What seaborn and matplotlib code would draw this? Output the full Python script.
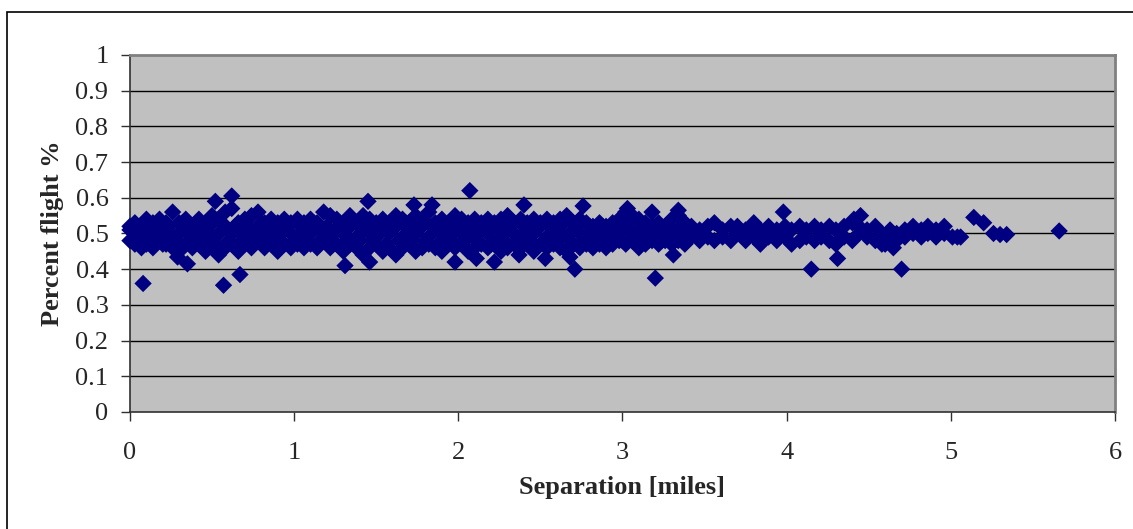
import matplotlib
matplotlib.use("Agg")
import matplotlib.pyplot as plt
import matplotlib.patches as mpatches
import seaborn as sns
import pandas as pd


# dense core of the cloud, read column by column (low, mid, high)
core_sep = [0.00, 0.03, 0.07, 0.10, 0.14, 0.18, 0.22, 0.26, 0.30, 0.34,
            0.38, 0.42, 0.46, 0.50, 0.54, 0.58, 0.62, 0.66, 0.70, 0.74,
            0.78, 0.82, 0.86, 0.90, 0.94, 0.98, 1.02, 1.06, 1.10, 1.14,
            1.18, 1.22, 1.26, 1.30, 1.34, 1.38, 1.42, 1.46, 1.50, 1.54,
            1.58, 1.62, 1.66, 1.70, 1.74, 1.78, 1.82, 1.86, 1.90, 1.94,
            1.98, 2.02, 2.06, 2.10, 2.14, 2.18, 2.22, 2.26, 2.30, 2.34,
            2.38, 2.42, 2.46, 2.50, 2.54, 2.58, 2.62, 2.66, 2.70, 2.74,
            2.78, 2.82, 2.86, 2.90, 2.94, 2.98, 3.02, 3.06, 3.10, 3.14,
            3.18, 3.22, 3.26, 3.30, 3.34, 3.38]
core_low = [0.48, 0.47, 0.46, 0.47, 0.46, 0.48, 0.47, 0.46, 0.45, 0.47,
            0.46, 0.47, 0.45, 0.47, 0.44, 0.46, 0.47, 0.45, 0.47, 0.46,
            0.48, 0.46, 0.47, 0.45, 0.47, 0.46, 0.47, 0.46, 0.47, 0.46,
            0.48, 0.46, 0.47, 0.45, 0.47, 0.46, 0.44, 0.46, 0.47, 0.45,
            0.46, 0.44, 0.46, 0.47, 0.45, 0.46, 0.47, 0.46, 0.45, 0.47,
            0.46, 0.47, 0.45, 0.46, 0.47, 0.46, 0.47, 0.45, 0.46, 0.47,
            0.46, 0.47, 0.45, 0.47, 0.46, 0.47, 0.46, 0.45, 0.47, 0.46,
            0.47, 0.46, 0.47, 0.46, 0.47, 0.48, 0.47, 0.48, 0.46, 0.47,
            0.48, 0.47, 0.48, 0.47, 0.48, 0.47]
core_mid = [0.51, 0.50, 0.49, 0.51, 0.50, 0.50, 0.51, 0.49, 0.50, 0.51,
            0.49, 0.50, 0.51, 0.49, 0.50, 0.52, 0.50, 0.51, 0.49, 0.50,
            0.51, 0.50, 0.52, 0.49, 0.51, 0.50, 0.49, 0.51, 0.50, 0.52,
            0.50, 0.49, 0.51, 0.50, 0.52, 0.49, 0.51, 0.50, 0.49, 0.51,
            0.50, 0.52, 0.49, 0.51, 0.50, 0.52, 0.49, 0.51, 0.50, 0.49,
            0.51, 0.50, 0.52, 0.49, 0.51, 0.50, 0.52, 0.49, 0.51, 0.50,
            0.49, 0.51, 0.50, 0.52, 0.49, 0.51, 0.50, 0.49, 0.51, 0.50,
            0.49, 0.51, 0.50, 0.49, 0.51, 0.50, 0.52, 0.50, 0.51, 0.49,
            0.50, 0.51, 0.49, 0.50, 0.51, 0.50]
core_high = [0.52, 0.53, 0.52, 0.54, 0.53, 0.54, 0.53, 0.56, 0.53, 0.54,
             0.52, 0.54, 0.53, 0.55, 0.54, 0.56, 0.57, 0.53, 0.54, 0.55,
             0.56, 0.53, 0.54, 0.53, 0.54, 0.53, 0.54, 0.53, 0.54, 0.53,
             0.56, 0.55, 0.54, 0.53, 0.55, 0.53, 0.55, 0.54, 0.53, 0.54,
             0.53, 0.55, 0.54, 0.53, 0.55, 0.54, 0.56, 0.53, 0.54, 0.53,
             0.55, 0.54, 0.53, 0.54, 0.53, 0.54, 0.53, 0.54, 0.55, 0.53,
             0.54, 0.53, 0.54, 0.53, 0.54, 0.53, 0.54, 0.55, 0.53, 0.54,
             0.53, 0.52, 0.53, 0.52, 0.53, 0.54, 0.56, 0.55, 0.54, 0.53,
             0.52, 0.53, 0.52, 0.54, 0.55, 0.53]

# in-between points of the core
fill_sep = [0.02, 0.05, 0.09, 0.12, 0.16, 0.20, 0.24, 0.28, 0.32, 0.36,
            0.40, 0.44, 0.48, 0.52, 0.56, 0.60, 0.64, 0.68, 0.72, 0.76,
            0.80, 0.84, 0.88, 0.92, 0.96, 1.00, 1.04, 1.08, 1.12, 1.16,
            1.20, 1.24, 1.28, 1.32, 1.36, 1.40, 1.44, 1.48, 1.52, 1.56,
            1.60, 1.64, 1.68, 1.72, 1.76, 1.80, 1.84, 1.88, 1.92, 1.96,
            2.00, 2.04, 2.08, 2.12, 2.16, 2.20, 2.24, 2.28, 2.32, 2.36,
            2.40, 2.44, 2.48, 2.52, 2.56, 2.60, 2.64, 2.68, 2.72, 2.76,
            2.80, 2.84, 2.88, 2.92, 2.96, 3.00, 3.04, 3.08, 3.12, 3.16,
            3.20, 3.24, 3.28, 3.32, 3.36]
fill_pct = [0.52, 0.48, 0.52, 0.48, 0.52, 0.47, 0.52, 0.48, 0.53, 0.48,
            0.52, 0.48, 0.52, 0.47, 0.53, 0.48, 0.52, 0.48, 0.52, 0.48,
            0.53, 0.48, 0.52, 0.47, 0.52, 0.48, 0.52, 0.48, 0.53, 0.48,
            0.52, 0.47, 0.52, 0.48, 0.53, 0.48, 0.52, 0.48, 0.52, 0.47,
            0.52, 0.48, 0.53, 0.48, 0.52, 0.48, 0.52, 0.47, 0.52, 0.48,
            0.53, 0.48, 0.52, 0.48, 0.52, 0.47, 0.52, 0.48, 0.53, 0.48,
            0.52, 0.48, 0.52, 0.47, 0.52, 0.48, 0.53, 0.48, 0.52, 0.48,
            0.52, 0.48, 0.52, 0.48, 0.52, 0.48, 0.53, 0.48, 0.52, 0.48,
            0.52, 0.48, 0.52, 0.48, 0.52]

# thinner tail of the cloud (two levels per column)
tail_sep = [3.42, 3.47, 3.52, 3.56, 3.61, 3.66, 3.70, 3.75, 3.80, 3.84,
            3.89, 3.94, 3.99, 4.03, 4.08, 4.12, 4.17, 4.21, 4.26, 4.30,
            4.35, 4.40, 4.44, 4.49, 4.54, 4.58, 4.63, 4.67, 4.72, 4.77,
            4.82, 4.86, 4.91, 4.96]
tail_low = [0.49, 0.48, 0.49, 0.48, 0.49, 0.48, 0.50, 0.48, 0.49, 0.47,
            0.49, 0.48, 0.49, 0.47, 0.48, 0.49, 0.48, 0.49, 0.48, 0.47,
            0.49, 0.48, 0.50, 0.49, 0.48, 0.47, 0.49, 0.48, 0.49, 0.50,
            0.49, 0.50, 0.49, 0.50]
tail_high = [0.52, 0.51, 0.52, 0.53, 0.51, 0.52, 0.52, 0.51, 0.53, 0.51,
             0.52, 0.51, 0.52, 0.51, 0.52, 0.51, 0.52, 0.51, 0.52, 0.51,
             0.52, 0.53, 0.52, 0.51, 0.52, 0.50, 0.51, 0.50, 0.51, 0.52,
             0.51, 0.52, 0.51, 0.52]

# scattered outliers
out_sep = [0.08, 0.57, 0.67, 0.62, 0.52, 0.29, 0.35, 1.31, 1.45, 2.07,
           1.73, 1.84, 2.40, 1.46, 1.98, 2.11, 2.22, 2.37, 2.53, 2.68,
           2.71, 2.76, 3.20, 3.18, 3.34, 3.03, 3.98, 3.31, 4.15, 4.45,
           4.31, 4.70, 5.14, 5.20, 5.26, 5.30, 5.34, 5.06, 5.01, 5.04,
           5.66, 4.41, 4.60, 4.65]
out_pct = [0.36, 0.355, 0.385, 0.605, 0.59, 0.434, 0.415, 0.41, 0.59, 0.62,
           0.58, 0.58, 0.58, 0.42, 0.42, 0.43, 0.42, 0.44, 0.43, 0.434,
           0.40, 0.577, 0.375, 0.56, 0.565, 0.57, 0.56, 0.44, 0.40, 0.55,
           0.43, 0.40, 0.545, 0.53, 0.50, 0.497, 0.497, 0.49, 0.49, 0.49,
           0.507, 0.54, 0.47, 0.46]

sep = core_sep * 3 + fill_sep + tail_sep * 2 + out_sep
pct = core_low + core_mid + core_high + fill_pct + tail_low + tail_high + out_pct
df = pd.DataFrame({"sep": sep, "pct": pct})

sns.set_style("ticks")
plt.rcParams["font.family"] = ["Liberation Serif", "DejaVu Serif"]

fig = plt.figure(figsize=(11.33, 5.29), dpi=100)
ax = fig.add_axes([0.1147, 0.2212, 0.8694, 0.6749])
ax.set_facecolor("#c0c0c0")

for yv in [0.1, 0.2, 0.3, 0.4, 0.5, 0.6, 0.7, 0.8, 0.9]:
    ax.axhline(yv, color="black", lw=1.0, zorder=1)

sns.scatterplot(data=df, x="sep", y="pct", marker="D", s=78,
                color="#000080", edgecolor="none", linewidth=0, ax=ax,
                zorder=3, clip_on=False)

ax.set_xlim(0, 6)
ax.set_ylim(0, 1)
ax.set_xticks([0, 1, 2, 3, 4, 5, 6])
ax.set_yticks([0, 0.1, 0.2, 0.3, 0.4, 0.5, 0.6, 0.7, 0.8, 0.9, 1])
ax.set_yticklabels(["0", "0.1", "0.2", "0.3", "0.4", "0.5", "0.6", "0.7",
                    "0.8", "0.9", "1"])
ax.tick_params(axis="both", direction="out", length=6.5, width=1,
               color="#303030", labelsize=19)
ax.tick_params(axis="x", pad=15)
ax.tick_params(axis="y", pad=9)

for side in ["left", "bottom"]:
    ax.spines[side].set_color("#303030")
    ax.spines[side].set_linewidth(1.2)
for side in ["top", "right"]:
    ax.spines[side].set_visible(True)
    ax.spines[side].set_color("#808080")
    ax.spines[side].set_linewidth(2)

ax.set_xlabel("Separation [miles]", fontsize=19, fontweight="bold",
              labelpad=9)
ax.set_ylabel("Percent flight %", fontsize=19, fontweight="bold",
              labelpad=8)

# outer chart frame
frame = mpatches.Rectangle((7 / 1133, -0.05), 1.1, 0.05 + (529 - 12) / 529,
                           transform=fig.transFigure, fill=False,
                           edgecolor="black", lw=1.2)
fig.patches.append(frame)

fig.savefig("out.png", dpi=100)
